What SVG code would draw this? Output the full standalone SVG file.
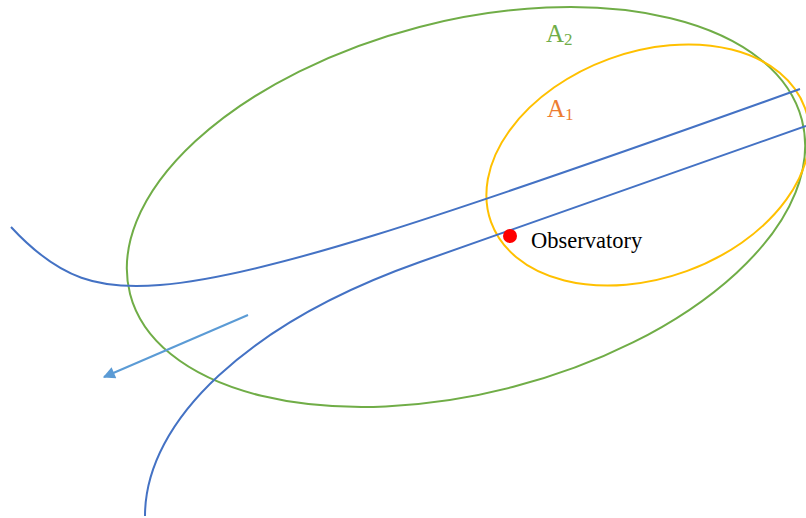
<svg xmlns="http://www.w3.org/2000/svg" width="806" height="518" viewBox="0 0 806 518">
<style>
.curve{fill:none;stroke:#4472C4;stroke-width:2}
.lbl{font-family:"Liberation Serif","Times New Roman",serif}
</style>
<defs>
<marker id="ah" viewBox="0 0 10 10" refX="9" refY="5" markerWidth="6.5" markerHeight="6" orient="auto" markerUnits="strokeWidth">
<path d="M0,0 L10,5 L0,10 z" fill="#5B9BD5"/>
</marker>
</defs>
<rect width="806" height="518" fill="#fff"/>
<g id="region-A2">
<ellipse cx="466" cy="207" rx="347" ry="186" transform="rotate(-14.5 466 207)" fill="none" stroke="#70AD47" stroke-width="2"/>
<text class="lbl" x="546" y="42" font-size="25" fill="#70AD47">A<tspan font-size="17" dy="3">2</tspan></text>
</g>
<g id="region-A1">
<ellipse cx="648" cy="165" rx="167" ry="113" transform="rotate(-20 648 165)" fill="none" stroke="#FFC000" stroke-width="2"/>
<text class="lbl" x="547" y="117" font-size="25" fill="#ED7D31">A<tspan font-size="17" dy="3">1</tspan></text>
</g>
<g id="connectors">
<path class="curve" d="M11,227 C60,280 100,290 160,285 C260,277 420,225 800,89"/>
<path class="curve" d="M145,516 C145,420 250,322 420,262 L806,126"/>
<line x1="248" y1="315" x2="104" y2="377" stroke="#5B9BD5" stroke-width="2" marker-end="url(#ah)"/>
</g>
<g id="observatory">
<circle cx="510" cy="236" r="7" fill="#FF0000"/>
<text class="lbl" x="531" y="248" font-size="22.5" fill="#000">Observatory</text>
</g>
</svg>
